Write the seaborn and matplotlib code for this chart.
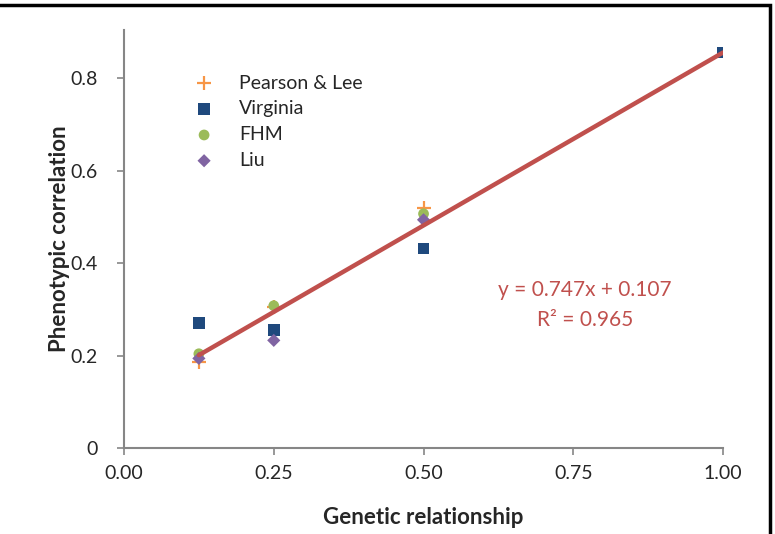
import numpy as np
import pandas as pd
import matplotlib
matplotlib.use("Agg")
import matplotlib.pyplot as plt
import seaborn as sns
from matplotlib.patches import Rectangle

# values
pearson_x = [0.125, 0.25, 0.5]
pearson_y = [0.187, 0.306, 0.520]
virginia_x = [0.125, 0.25, 0.5, 1.0]
virginia_y = [0.270, 0.255, 0.432, 0.856]
fhm_x = [0.125, 0.25, 0.5]
fhm_y = [0.204, 0.308, 0.507]
liu_x = [0.125, 0.25, 0.5]
liu_y = [0.194, 0.233, 0.494]

series = [
    ("Pearson & Lee", pearson_x, pearson_y, "+", "#F79646", 90),
    ("Virginia", virginia_x, virginia_y, "s", "#1F497D", 70),
    ("FHM", fhm_x, fhm_y, "o", "#9BBB59", 60),
    ("Liu", liu_x, liu_y, "D", "#8064A2", 45),
]

sns.set_style("white")
plt.rcParams["font.family"] = ["Lato", "DejaVu Sans"]

fig = plt.figure(figsize=(7.75, 5.34), dpi=100)
ax = fig.add_axes([0.16, 0.161, 0.773, 0.783])

for name, xs, ys, mk, col, sz in series:
    if mk == "+":
        sns.scatterplot(x=xs, y=ys, marker=mk, color=col, s=sz, linewidth=1.6,
                        label=name, ax=ax, zorder=3)
    else:
        sns.scatterplot(x=xs, y=ys, marker=mk, color=col, s=sz, edgecolor="none",
                        label=name, ax=ax, zorder=3)

# linear trendline over all points
all_df = pd.DataFrame({
    "x": pearson_x + virginia_x + fhm_x + liu_x,
    "y": pearson_y + virginia_y + fhm_y + liu_y,
})
sns.regplot(data=all_df, x="x", y="y", scatter=False, ci=None, truncate=True,
            color="#C0504D", line_kws={"lw": 3.2, "zorder": 4}, ax=ax)

ax.text(0.77, 0.342, "y = 0.747x + 0.107", color="#C0504D", fontsize=15,
        ha="center", va="center")
ax.text(0.77, 0.277, "R² = 0.965", color="#C0504D", fontsize=15,
        ha="center", va="center")

ax.set_xlim(0, 1.0)
ax.set_ylim(0, 0.905)
ax.set_xticks([0, 0.25, 0.5, 0.75, 1.0])
ax.set_xticklabels(["0.00", "0.25", "0.50", "0.75", "1.00"])
ax.set_yticks([0, 0.2, 0.4, 0.6, 0.8])
ax.set_yticklabels(["0", "0.2", "0.4", "0.6", "0.8"])
ax.tick_params(axis="both", labelsize=14, length=5, width=1.2, color="#868686",
               direction="out", left=True, bottom=True)
ax.tick_params(axis="x", pad=7)
ax.tick_params(axis="y", pad=14)

for s in ["top", "right"]:
    ax.spines[s].set_visible(False)
for s in ["left", "bottom"]:
    ax.spines[s].set_color("#868686")
    ax.spines[s].set_linewidth(1.5)

ax.set_xlabel("Genetic relationship", fontsize=16, fontweight="bold", labelpad=18)
ax.set_ylabel("Phenotypic correlation", fontsize=16, fontweight="bold", labelpad=0)

ax.legend(loc="upper left", bbox_to_anchor=(0.072, 0.935), frameon=False,
          fontsize=14, handletextpad=0.8, labelspacing=0.45, markerscale=1.0)

# chart area border
fig.patches.append(Rectangle((-0.01, -0.01), 1.004, 1.0, transform=fig.transFigure,
                             fill=False, edgecolor="black", linewidth=2.5))

fig.savefig("out.png", dpi=100)
